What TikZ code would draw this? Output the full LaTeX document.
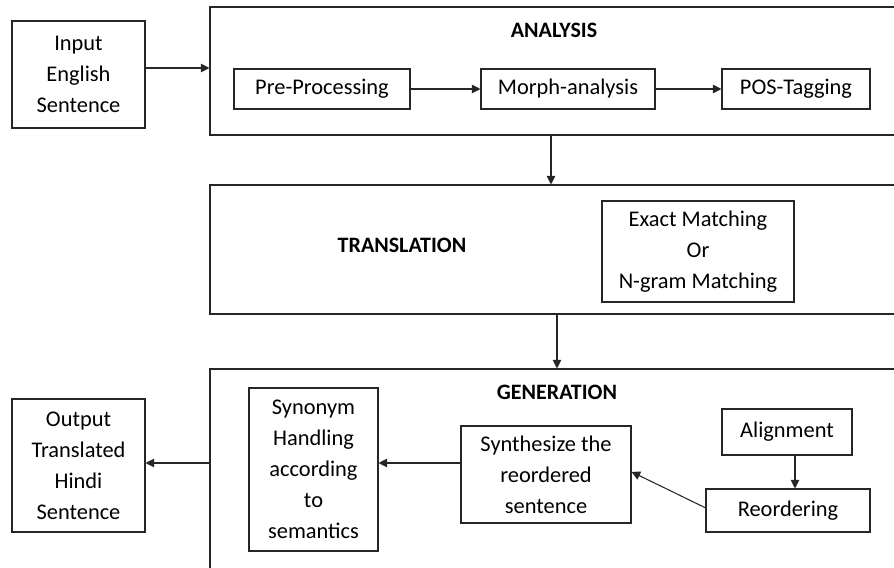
\documentclass[tikz,border=0pt]{standalone}
\usepackage{fontspec}
\setmainfont{Carlito}
\usetikzlibrary{arrows.meta,fit}

\begin{document}
\begin{tikzpicture}[x=0.75pt,y=-0.75pt,
  box/.style={draw=black!85,line width=0.8pt,inner sep=0pt,align=center,
    font=\fontsize{16.8}{23.25}\selectfont},
  stage/.style={draw=black!85,line width=0.8pt,inner sep=0pt},
  title/.style={inner sep=0pt,font=\fontsize{16.5}{18}\selectfont\bfseries},
  arr/.style={-{Triangle[length=6.5pt,width=6.5pt]},line width=0.8pt,draw=black!85}]
\useasboundingbox (0,0) rectangle (894,568);
\clip (0,0) rectangle (894,568);

% stages (open to the right and bottom)
\node (analysis) [stage, fit={(210,7) (910,135)}] {};
\node (translation) [stage, fit={(210,185) (910,314)}] {};
\node (generation) [stage, fit={(210,369) (910,590)}] {};

\node (atitle) [title] at (554,30) {ANALYSIS};
\node (ttitle) [title] at (402,245) {TRANSLATION};
\node (gtitle) [title] at (557,392) {GENERATION};

% outer input / output
\node (input) [box, minimum width=99.75pt, minimum height=80.25pt] at (78.5,74.5)
  {Input\\English\\Sentence};
\node (output) [box, minimum width=99.75pt, minimum height=99.75pt] at (78.5,465.5)
  {Output\\Translated\\Hindi\\Sentence};

% analysis steps
\node (pre) [box, minimum width=132pt, minimum height=30pt] at (322,89) {Pre-Processing};
\node (morph) [box, minimum width=130.5pt, minimum height=30pt] at (568,89) {Morph-analysis};
\node (pos) [box, minimum width=111pt, minimum height=30pt] at (796,89) {POS-Tagging};

% translation step
\node (match) [box, minimum width=144pt, minimum height=75.75pt] at (698,251.5)
  {Exact Matching\\Or\\N-gram Matching};

% generation steps
\node (synonym) [box, minimum width=96.75pt, minimum height=122.25pt] at (313.5,469.5)
  {Synonym\\Handling\\according\\to\\semantics};
\node (synth) [box, minimum width=127.5pt, minimum height=72.75pt] at (546,474.5)
  {Synthesize the\\reordered\\sentence};
\node (align) [box, minimum width=97.5pt, minimum height=34.5pt] at (787,432) {Alignment};
\node (reorder) [box, minimum width=123pt, minimum height=32.25pt] at (788,510.5) {Reordering};

% connectors
\coordinate (ia) at (145,68);
\draw[arr] (ia) -- (ia -| analysis.west);
\draw[arr] (pre) -- (morph);
\draw[arr] (morph) -- (pos);
\coordinate (at) at (551,135);
\draw[arr] (at) -- (at |- translation.north);
\coordinate (tg) at (557,314);
\draw[arr] (tg) -- (tg |- generation.north);
\coordinate (go) at (210,463);
\draw[arr] (go) -- (go -| output.east);
\coordinate (ss) at (461,463);
\draw[arr] (ss) -- (ss -| synonym.east);
\coordinate (ar) at (795,455);
\draw[arr] (ar) -- (ar |- reorder.north);
\draw[arr] ([yshift=2pt]reorder.west) -- ([yshift=2pt]synth.east);
\end{tikzpicture}
\end{document}
